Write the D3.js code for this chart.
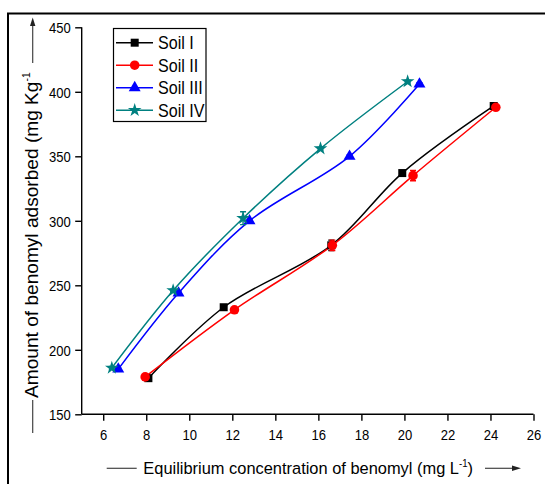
<!DOCTYPE html>
<html><head><meta charset="utf-8">
<script src="https://cdn.jsdelivr.net/npm/d3@7"></script>
<style>
html,body{margin:0;padding:0;background:#fff;}
svg{display:block;font-family:"Liberation Sans",Arial,sans-serif;}
</style></head>
<body>
<svg id="c" width="545" height="484"></svg>
<script>
// ---- data ----
const seriesNames = ["Soil I", "Soil II", "Soil III", "Soil IV"];
const soil1X = [8.1, 11.6, 16.6, 19.9, 24.15];
const soil1Y = [178, 233, 281, 337, 389];
const soil1Err = [1, 1, 4, 2, 1];
const soil2X = [7.95, 12.1, 16.65, 20.4, 24.25];
const soil2Y = [179, 231, 281, 335, 388];
const soil2Err = [1, 1, 4, 4, 1];
const soil3X = [6.7, 9.5, 12.8, 17.45, 20.7];
const soil3Y = [185, 244, 300, 350, 406];
const soil3Err = [1, 1, 1, 1, 1];
const soil4X = [6.4, 9.25, 12.5, 16.1, 20.15];
const soil4Y = [186, 246, 302, 356, 408];
const soil4Err = [1, 1, 5, 1, 1];
const xTicks = [6, 8, 10, 12, 14, 16, 18, 20, 22, 24, 26];
const yTicks = [150, 200, 250, 300, 350, 400, 450];
const xTitle = "Equilibrium concentration of benomyl (mg L";
const yTitle = "Amount of benomyl adsorbed (mg Kg";

const colors = ["#000000", "#ff0000", "#0000ff", "#008080"];
const symbols = [d3.symbolSquare, d3.symbolCircle, d3.symbolTriangle, d3.symbolStar];
const symSizes = [64, 72, 62, 58];
const series = [
  {x: soil1X, y: soil1Y, e: soil1Err},
  {x: soil2X, y: soil2Y, e: soil2Err},
  {x: soil3X, y: soil3Y, e: soil3Err},
  {x: soil4X, y: soil4Y, e: soil4Err}
];

const svg = d3.select("#c");
const SX = 0.87; // horizontal compression of text
// outer frame
svg.append("rect").attr("x", 8).attr("y", 13.5).attr("width", 600).attr("height", 600)
  .attr("fill", "none").attr("stroke", "#000").attr("stroke-width", 2);

const x = d3.scaleLinear().domain([5, 26]).range([81.7, 533.5]);
const y = d3.scaleLinear().domain([150, 450]).range([414.3, 27.3]);

// axes
const gx = svg.append("g").attr("transform", "translate(0,414.3)");
gx.call(d3.axisBottom(x).tickValues(d3.range(7, 26, 2)).tickSize(4).tickFormat(""));
gx.call(d3.axisBottom(x).tickValues(xTicks).tickSize(6.5).tickPadding(4));
gx.selectAll("text").attr("font-size", 15).attr("fill", "#000")
  .attr("transform", `scale(${SX},1)`).attr("y", 26).attr("dy", 0);

const gy = svg.append("g").attr("transform", "translate(81.7,0)");
gy.call(d3.axisLeft(y).tickValues(d3.range(175, 450, 50)).tickSize(3.5).tickFormat(""));
gy.call(d3.axisLeft(y).tickValues(yTicks).tickSize(6.5));
gy.selectAll("text").attr("font-size", 15).attr("fill", "#000")
  .attr("transform", `scale(${SX},1)`).attr("x", -12.5).attr("dy", "0.36em");
svg.selectAll(".domain, .tick line").attr("stroke", "#000").attr("stroke-width", 1.4);
gx.selectAll(".domain").attr("d", "M81.7,0H533.5");
gy.selectAll(".domain").attr("d", "M0,414.3V27.3");

// lines
const line = d3.line().x(d => x(d[0])).y(d => y(d[1])).curve(d3.curveCatmullRom.alpha(0.5));
const plot = svg.append("g");
series.forEach((s, i) => {
  const pts = s.x.map((v, j) => [v, s.y[j], s.e[j]]);
  plot.append("path").datum(pts).attr("d", line).attr("fill", "none")
    .attr("stroke", colors[i]).attr("stroke-width", 1.5);
});
series.forEach((s, i) => {
  const pts = s.x.map((v, j) => [v, s.y[j], s.e[j]]);
  const g = plot.append("g");
  pts.forEach(p => {
    const cx = x(p[0]), y0 = y(p[1] - p[2]), y1 = y(p[1] + p[2]);
    g.append("path").attr("d", `M${cx},${y0}V${y1}M${cx-3},${y0}H${cx+3}M${cx-3},${y1}H${cx+3}`)
      .attr("stroke", colors[i]).attr("stroke-width", 1.4).attr("fill", "none");
  });
  g.selectAll("path.m").data(pts).join("path").attr("class", "m")
    .attr("transform", d => `translate(${x(d[0])},${y(d[1])})`)
    .attr("d", d3.symbol().type(symbols[i]).size(symSizes[i]))
    .attr("fill", colors[i]);
});

// legend
const lg = svg.append("g");
lg.append("rect").attr("x", 113.5).attr("y", 28.5).attr("width", 92.5).attr("height", 93)
  .attr("fill", "#fff").attr("stroke", "#000").attr("stroke-width", 1.2);
seriesNames.forEach((n, i) => {
  const ry = 42.7 + i * 22.5;
  lg.append("line").attr("x1", 116).attr("x2", 153).attr("y1", ry).attr("y2", ry)
    .attr("stroke", colors[i]).attr("stroke-width", 1.5);
  lg.append("path").attr("transform", `translate(134.7,${ry})`)
    .attr("d", d3.symbol().type(symbols[i]).size(symSizes[i])).attr("fill", colors[i]);
  lg.append("text").attr("transform", `translate(158,${ry + 6.5}) scale(${SX},1)`)
    .attr("font-size", 18.5).attr("fill", "#000").text(n);
});

// x title
const xt = svg.append("text").attr("font-size", 17).attr("fill", "#000");
xt.append("tspan").text(xTitle);
xt.append("tspan").attr("font-size", 10).attr("dy", -7).text("-1");
xt.append("tspan").attr("dy", 7).text(")");
const xw = xt.node().getComputedTextLength();
xt.attr("transform", `translate(143.3,474) scale(${330 / xw},1)`);
svg.append("line").attr("x1", 106.7).attr("x2", 136.7).attr("y1", 468.3).attr("y2", 468.3)
  .attr("stroke", "#444").attr("stroke-width", 1.2);
svg.append("line").attr("x1", 485).attr("x2", 514).attr("y1", 468.3).attr("y2", 468.3)
  .attr("stroke", "#444").attr("stroke-width", 1.2);
svg.append("path").attr("d", "M512,465.5L521,468.3L512,471.1Z").attr("fill", "#222");

// y title
const yt = svg.append("text").attr("font-size", 18.5).attr("fill", "#000");
yt.append("tspan").text(yTitle);
yt.append("tspan").attr("font-size", 10).attr("dy", -7.5).text("-1");
const yw = yt.node().getComputedTextLength();
yt.attr("transform", `translate(37.5,398) rotate(-90) scale(${326 / yw},1)`);
svg.append("line").attr("x1", 32.7).attr("x2", 32.7).attr("y1", 400).attr("y2", 433)
  .attr("stroke", "#444").attr("stroke-width", 1.2);
svg.append("line").attr("x1", 32.7).attr("x2", 32.7).attr("y1", 63).attr("y2", 24)
  .attr("stroke", "#444").attr("stroke-width", 1.2);
svg.append("path").attr("d", "M30,26L32.7,17.5L35.4,26Z").attr("fill", "#222");
</script>
</body></html>
